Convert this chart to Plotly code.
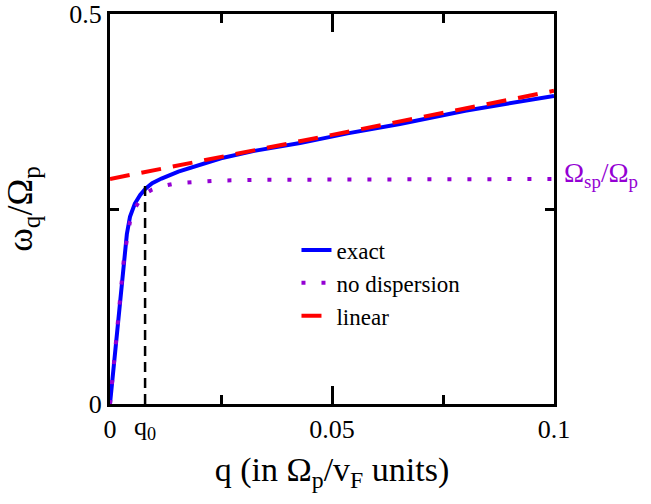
import plotly.graph_objects as go

# ---- data ----
q_exact = [0, 0.0011, 0.0019, 0.0026, 0.0032, 0.0038, 0.0045, 0.0056, 0.0068, 0.0080,
           0.0095, 0.0116, 0.0154, 0.0203, 0.025, 0.0325, 0.0428, 0.0535, 0.0653, 0.080, 0.100]
w_exact = [0, 0.062, 0.112, 0.158, 0.192, 0.218, 0.240, 0.257, 0.268, 0.276,
           0.283, 0.289, 0.298, 0.307, 0.315, 0.3245, 0.3345, 0.347, 0.359, 0.376, 0.395]

q_nodisp = [0, 0.0011, 0.0019, 0.0032, 0.0045, 0.0057, 0.0068, 0.0080, 0.0095, 0.0115,
            0.015, 0.020, 0.025, 0.035, 0.050, 0.070, 0.100]
w_nodisp = [0, 0.061, 0.110, 0.190, 0.234, 0.252, 0.262, 0.270, 0.275, 0.279,
            0.283, 0.285, 0.2865, 0.2875, 0.288, 0.2885, 0.2885]

q_linear = [0, 0.100]
w_linear = [0.2885, 0.4015]

omega_sp = 0.2885          # Omega_sp / Omega_p level
q0 = 0.0079                # q_0 marker position
q0_top = 0.284             # top of the q_0 dashed guide

x_tickvals = [0, 0.05, 0.1]
x_ticktext = ["0", "0.05", "0.1"]
y_tickvals = [0, 0.5]
y_ticktext = ["0", "0.5"]

FONT = "Liberation Serif"
PURPLE = "#9400D3"

fig = go.Figure()
fig.add_trace(go.Scatter(x=q_exact, y=w_exact, mode="lines", name="exact",
                         line=dict(color="#0000FF", width=4), legendgroup="a"))
fig.add_trace(go.Scatter(x=q_nodisp, y=w_nodisp, mode="lines", name="no dispersion",
                         line=dict(color=PURPLE, width=4, dash="4px,16px"), legendgroup="b"))
fig.add_trace(go.Scatter(x=q_linear, y=w_linear, mode="lines", name="linear",
                         line=dict(color="#FF0000", width=4, dash="20px,12px"), legendgroup="c"))
fig.add_trace(go.Scatter(x=[q0, q0], y=[0, q0_top], mode="lines", showlegend=False,
                         line=dict(color="black", width=2.5, dash="10px,6px")))

fig.add_annotation(x=q0, y=0, xref="x", yref="y", text="q<sub>0</sub>", showarrow=False,
                   xanchor="center", yanchor="top", yshift=-6,
                   font=dict(family=FONT, size=26, color="black"))
fig.add_annotation(x=0.1, y=omega_sp, xref="x", yref="y",
                   text="Ω<sub>sp</sub>/Ω<sub>p</sub>", showarrow=False,
                   xanchor="left", yanchor="middle", xshift=8, yshift=4,
                   font=dict(family=FONT, size=27, color=PURPLE))

axis_common = dict(showline=True, linewidth=3, linecolor="black", mirror="ticks",
                   ticks="inside", tickwidth=3, tickcolor="black", ticklen=18,
                   showgrid=False, zeroline=False, ticklabeloverflow="allow",
                   tickfont=dict(family=FONT, size=26, color="black"))

fig.update_xaxes(range=[0, 0.1], tickvals=x_tickvals, ticktext=x_ticktext,
                 minor=dict(ticks="inside", ticklen=9, tickwidth=3, tickcolor="black",
                            tickvals=[0.025, 0.075]),
                 title=dict(text="q (in Ω<sub>p</sub>/v<sub>F</sub> units)",
                            font=dict(family=FONT, size=34, color="black"), standoff=14),
                 **axis_common)
fig.update_yaxes(range=[0, 0.5], tickvals=y_tickvals, ticktext=y_ticktext,
                 minor=dict(ticks="inside", ticklen=9, tickwidth=3, tickcolor="black",
                            tickvals=[0.25]),
                 title=dict(text="ω<sub>q</sub>/Ω<sub>p</sub>",
                            font=dict(family=FONT, size=36, color="black"), standoff=26),
                 **axis_common)

fig.update_layout(
    width=651, height=504,
    margin=dict(l=110, r=97, t=14, b=100, autoexpand=False),
    plot_bgcolor="white", paper_bgcolor="white",
    font=dict(family=FONT, color="black"),
    legend=dict(x=0.42, y=0.45, xanchor="left", yanchor="top",
                bgcolor="rgba(0,0,0,0)", font=dict(family=FONT, size=23),
                tracegroupgap=0, itemwidth=30),
)

# remove the browser's default 8px page margin so the figure fills the window
fig.write_html("out.html", config={"displayModeBar": False},
               post_script="document.body.style.margin='0';")
